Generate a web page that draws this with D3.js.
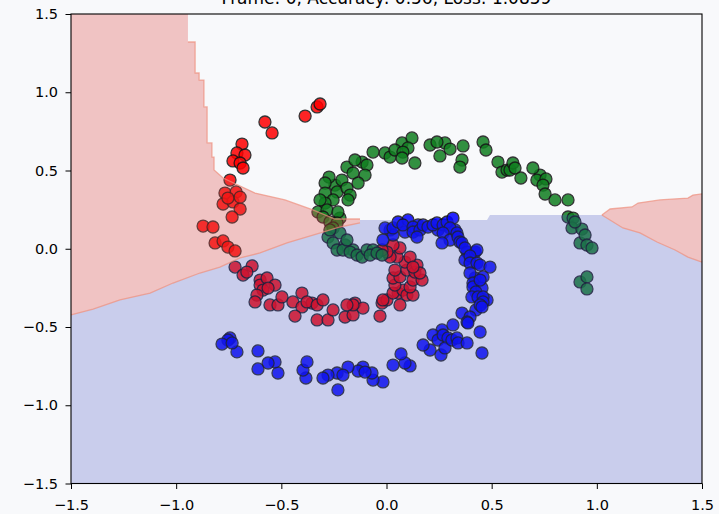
<!DOCTYPE html>
<html>
<head>
<meta charset="utf-8">
<script src="https://cdn.jsdelivr.net/npm/d3@7"></script>
<style>
  html, body { margin: 0; padding: 0; background: #f8f9fb; }
  svg { display: block; }
  text { font-family: "DejaVu Sans", sans-serif; }
</style>
</head>
<body>
<svg id="chart" width="719" height="514"></svg>
<script>
// ---- data -------------------------------------------------------------
const titleText = "Frame: 0, Accuracy: 0.56, Loss: 1.0859";
const tickValues = [-1.5, -1.0, -0.5, 0.0, 0.5, 1.0, 1.5];

// spiral class 0 (red)
const classRed = [
  [-0.387,0.848],[-0.330,0.906],[-0.316,0.925],[-0.578,0.810],[-0.544,0.740],
  [-0.687,0.669],[-0.711,0.612],[-0.673,0.599],[-0.730,0.561],[-0.696,0.548],
  [-0.682,0.516],[-0.744,0.439],[-0.768,0.356],[-0.715,0.363],[-0.777,0.286],
  [-0.730,0.299],[-0.696,0.254],[-0.734,0.203],[-0.872,0.145],[-0.825,0.139],
  [-0.754,0.324],[-0.696,0.330],
  [-0.815,0.037],[-0.777,0.050],[-0.754,0.011],[-0.720,-0.014],[-0.720,-0.117],
  [-0.682,-0.168],[-0.639,-0.110],[-0.664,-0.149],[-0.601,-0.200],[-0.601,-0.232],
  [-0.568,-0.187],[-0.530,-0.232],[-0.587,-0.264],
  [-0.563,-0.251],[-0.616,-0.296],[-0.625,-0.340],[-0.554,-0.359],[-0.516,-0.359],
  [-0.497,-0.308],[-0.445,-0.340],[-0.402,-0.283],[-0.402,-0.372],[-0.354,-0.347],
  [-0.378,-0.340],
  [-0.330,-0.359],[-0.302,-0.327],[-0.435,-0.430],[-0.330,-0.455],[-0.278,-0.455],
  [-0.254,-0.391],[-0.197,-0.436],[-0.159,-0.423],[-0.150,-0.347],[-0.112,-0.379],
  [-0.159,-0.359],[-0.188,-0.359],
  [-0.031,-0.430],[-0.021,-0.347],[0.002,-0.327],[0.064,-0.359],[0.055,-0.283],
  [-0.017,-0.327],[0.031,-0.283],[0.078,-0.264],
  [0.097,-0.296],[0.126,-0.296],[0.112,-0.244],[0.040,-0.232],[0.031,-0.187],
  [0.064,-0.180],[0.126,-0.200],[0.169,-0.200],[0.040,-0.136],[0.097,-0.136],
  [0.135,-0.149],[0.145,-0.104],[0.088,-0.085],[0.050,-0.053],[0.112,-0.053],
  [0.159,-0.155],[0.126,-0.117],[0.017,-0.053],
  [0.064,0.005],[0.031,0.024],[0.002,-0.021],[-0.021,-0.008]
];

// spiral class 1 (green)
const classGreen = [
  [-0.007,0.612],[0.017,0.586],[-0.064,0.618],[0.074,0.676],[0.121,0.708],
  [0.040,0.631],[0.102,0.644],[0.278,0.676],
  [0.078,0.618],[0.074,0.580],[0.135,0.548],[0.207,0.663],[0.240,0.682],
  [0.302,0.637],[0.254,0.593],[0.364,0.657],[0.359,0.567],[0.349,0.522],
  [0.459,0.682],[0.473,0.631],[0.530,0.554],[0.549,0.490],[0.573,0.503],
  [0.587,0.503],[0.730,0.471],
  [0.601,0.548],[0.611,0.516],[0.639,0.452],[0.696,0.516],[0.715,0.439],
  [0.758,0.446],[0.744,0.407],[0.754,0.350],[0.801,0.312],[0.863,0.312],
  [0.863,0.203],[0.887,0.196],[0.882,0.133],[0.929,0.126],[0.920,0.037],
  [0.896,0.171],[0.944,0.088],
  [0.953,0.024],[0.977,0.005],[0.920,-0.212],[0.953,-0.180],[0.953,-0.257],
  [-0.116,0.554],[-0.093,0.535],[-0.102,0.471],[-0.188,0.522],[-0.159,0.484],
  [-0.150,0.567],[-0.135,0.420],[-0.245,0.407],
  [-0.212,0.439],[-0.273,0.458],[-0.292,0.420],[-0.292,0.356],[-0.235,0.363],
  [-0.188,0.388],[-0.173,0.343],[-0.183,0.312],[-0.254,0.312],[-0.292,0.292],
  [-0.316,0.312],[-0.221,0.196],
  [-0.326,0.235],[-0.283,0.248],[-0.231,0.235],[-0.302,0.203],[-0.269,0.171],
  [-0.235,0.165],[-0.254,0.133],[-0.221,0.101],[-0.278,0.075],[-0.254,0.037],
  [-0.269,0.120],[-0.197,0.024],[-0.159,-0.008],
  [-0.235,-0.008],[-0.207,-0.008],[-0.188,0.056],[-0.173,-0.021],[-0.140,-0.040],
  [-0.116,-0.053],[-0.093,-0.008],[-0.064,-0.008],[-0.078,-0.040],[-0.045,-0.027],
  [-0.021,-0.040]
];

// spiral class 2 (blue)
const classBlue = [
  [0.017,0.120],[0.031,0.088],[-0.017,0.056],[-0.007,0.133],[0.031,0.133],
  [0.055,0.171],[0.088,0.107],[0.150,0.152],[0.245,0.120],[0.326,0.120],
  [0.102,0.184],[0.078,0.152],[0.126,0.139],[0.126,0.107],[0.159,0.120],
  [0.145,0.075],[0.174,0.152],[0.197,0.139],[0.221,0.152],[0.240,0.165],
  [0.269,0.152],[0.288,0.171],[0.316,0.196],[0.302,0.133],[0.269,0.101],
  [0.302,0.056],[0.335,0.101],[0.340,0.075],[0.349,0.043],[0.264,0.037],
  [0.359,0.037],[0.383,-0.021],[0.421,-0.021],[0.430,-0.008],[0.373,-0.072],
  [0.373,0.005],[0.397,-0.046],
  [0.397,-0.091],[0.430,-0.091],[0.445,-0.104],[0.492,-0.117],[0.421,-0.187],
  [0.459,-0.180],[0.397,-0.155],[0.411,-0.219],[0.411,-0.244],[0.454,-0.251],
  [0.445,-0.200],[0.425,-0.276],[0.478,-0.327],[0.425,-0.391],
  [0.406,-0.308],[0.435,-0.308],[0.459,-0.308],[0.459,-0.340],[0.445,-0.359],
  [0.454,-0.372],[0.359,-0.411],[0.397,-0.436],[0.383,-0.468],[0.316,-0.487],
  [0.445,-0.532],[0.264,-0.519],[0.221,-0.551],[0.245,-0.583],[0.269,-0.551],
  [0.292,-0.570],[0.207,-0.647],
  [0.259,-0.679],[0.278,-0.634],[0.311,-0.583],[0.335,-0.570],[0.340,-0.602],
  [0.383,-0.602],[0.387,-0.474],[0.454,-0.666],[0.174,-0.615],[0.112,-0.749],
  [0.088,-0.730],[0.069,-0.672],[0.031,-0.743],[-0.017,-0.851],[-0.064,-0.839],
  [-0.069,-0.794],[-0.112,-0.756],[-0.135,-0.781],[-0.183,-0.756],[-0.235,-0.794],
  [-0.102,-0.788],[-0.207,-0.807],
  [-0.278,-0.807],[-0.302,-0.826],[-0.231,-0.902],[-0.383,-0.826],[-0.397,-0.775],
  [-0.378,-0.723],[-0.516,-0.794],[-0.530,-0.723],[-0.563,-0.730],[-0.611,-0.768],
  [-0.611,-0.653],[-0.711,-0.659],[-0.744,-0.570],[-0.754,-0.583],[-0.782,-0.609],
  [-0.734,-0.602]
];

// decision-region boundaries
const leftRedUpperEdge = [
  [-0.944,1.5],[-0.944,1.321],[-0.910,1.321],[-0.910,1.123],[-0.891,1.123],
  [-0.891,1.078],[-0.868,1.078],[-0.868,0.906],[-0.853,0.906],[-0.853,0.676],
  [-0.830,0.676],[-0.830,0.586],[-0.820,0.586],[-0.820,0.503],[-0.777,0.452],
  [-0.625,0.356],[-0.483,0.312],[-0.350,0.248],[-0.245,0.190],[-0.126,0.190]
];
const leftRedLowerEdge = [
  [-0.126,0.165],[-0.221,0.139],[-0.302,0.107],[-0.473,0.037],[-0.601,-0.027],
  [-0.696,-0.059],[-0.792,-0.117],[-0.887,-0.155],[-1.015,-0.219],[-1.124,-0.283],
  [-1.267,-0.327],[-1.395,-0.385],[-1.5,-0.423]
];
const rightRedUpperEdge = [
  [1.024,0.216],[1.063,0.254],[1.167,0.267],[1.196,0.292],[1.300,0.312],
  [1.433,0.324],[1.457,0.343],[1.5,0.350]
];
const rightRedLowerEdge = [
  [1.024,0.216],[1.124,0.133],[1.205,0.101],[1.286,0.043],[1.372,-0.008],
  [1.433,-0.053],[1.5,-0.085]
];
const blueUpperEdge = [
  [1.024,0.216],[0.492,0.216],[0.478,0.184],[-0.126,0.184]
];

// ---- layout -----------------------------------------------------------
const svg = d3.select("#chart");
const plot = { left: 71, right: 702, top: 14, bottom: 483.5 };
const x = d3.scaleLinear().domain([-1.5, 1.5]).range([plot.left, plot.right]);
const y = d3.scaleLinear().domain([-1.5, 1.5]).range([plot.bottom, plot.top]);

svg.append("rect").attr("width", 719).attr("height", 514).attr("fill", "#f8f9fb");

// ---- scatter points ---------------------------------------------------
const series = [
  { pts: classRed,   color: "#ff0000" },
  { pts: classGreen, color: "#107e20" },
  { pts: classBlue,  color: "#0000ff" }
];
const gPts = svg.append("g");
series.forEach(s => {
  gPts.selectAll(null).data(s.pts).join("circle")
    .attr("cx", d => x(d[0]))
    .attr("cy", d => y(d[1]))
    .attr("r", 6)
    .attr("fill", s.color)
    .attr("stroke", "#141414")
    .attr("stroke-width", 1.3)
    .attr("opacity", 0.85);
});

// ---- translucent decision regions laid over the points -----------------
const line = d3.line().x(d => x(d[0])).y(d => y(d[1]));
const leftRed = [[-1.5, 1.5], ...leftRedUpperEdge, ...leftRedLowerEdge];
const rightRed = [...rightRedUpperEdge, ...rightRedLowerEdge.slice().reverse()];
const blueRegion = [[-1.5, -1.5], [1.5, -1.5], ...rightRedLowerEdge.slice().reverse(),
  ...blueUpperEdge.slice(1), ...leftRedLowerEdge];

const gReg = svg.append("g");
gReg.append("path").attr("d", line(blueRegion) + "Z")
  .attr("fill", "#3b4cc0").attr("fill-opacity", 0.25);
[leftRed, rightRed].forEach(poly => {
  gReg.append("path").attr("d", line(poly) + "Z")
    .attr("fill", "#dd4641").attr("fill-opacity", 0.3);
});
// soft contour edges
[leftRedUpperEdge.slice(1), leftRedLowerEdge, rightRedUpperEdge, rightRedLowerEdge].forEach(edge => {
  gReg.append("path").attr("d", line(edge))
    .attr("fill", "none").attr("stroke", "#ee8f7c").attr("stroke-width", 1.3)
    .attr("stroke-opacity", 0.7);
});

// ---- axes -------------------------------------------------------------
const fmt = d3.format(".1f");
const xAxis = svg.append("g").attr("transform", `translate(0,${plot.bottom})`)
  .call(d3.axisBottom(x).tickValues(tickValues).tickFormat(fmt)
    .tickSize(5.5).tickSizeOuter(0).tickPadding(10.5));
const yAxis = svg.append("g").attr("transform", `translate(${plot.left},0)`)
  .call(d3.axisLeft(y).tickValues(tickValues).tickFormat(fmt)
    .tickSize(5.5).tickSizeOuter(0).tickPadding(7.5));
[xAxis, yAxis].forEach(g => {
  g.selectAll("text").attr("font-size", "14.5px").attr("fill", "#000")
    .attr("font-family", "DejaVu Sans, sans-serif");
  g.selectAll("line").attr("stroke", "#000").attr("stroke-width", 1);
  g.select(".domain").remove();
});

// frame
svg.append("rect")
  .attr("x", plot.left).attr("y", plot.top)
  .attr("width", plot.right - plot.left).attr("height", plot.bottom - plot.top)
  .attr("fill", "none").attr("stroke", "#000").attr("stroke-width", 1.1);

// title
svg.append("text")
  .attr("x", (plot.left + plot.right) / 2).attr("y", 3.5)
  .attr("text-anchor", "middle").attr("font-size", "17px").attr("fill", "#000")
  .text(titleText);
</script>
</body>
</html>
